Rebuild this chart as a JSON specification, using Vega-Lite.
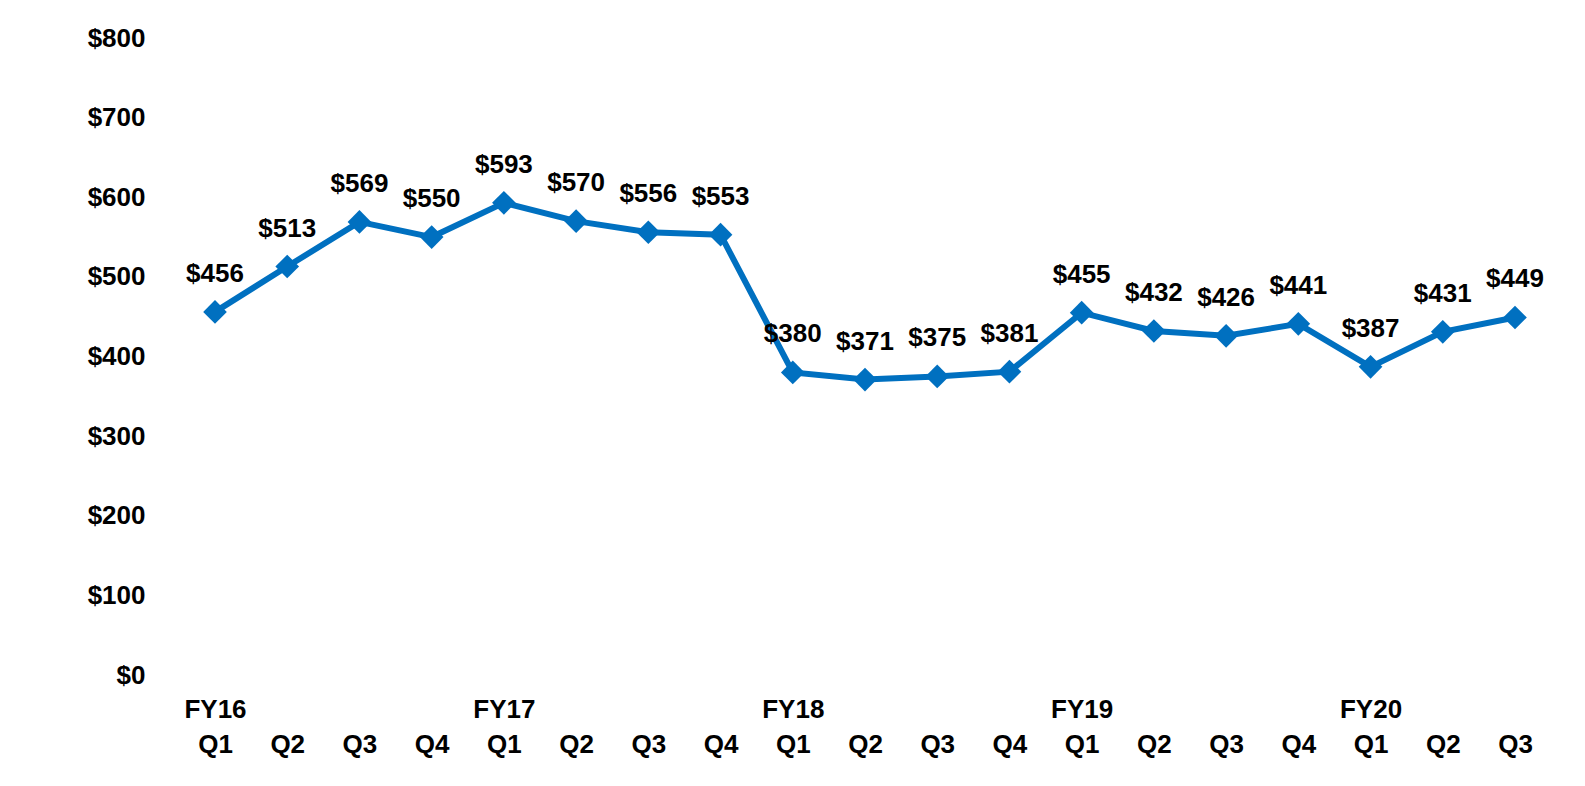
{
  "$schema": "https://vega.github.io/schema/vega-lite/v6.json",
  "autosize": "none",
  "padding": {"left": 150, "top": 38, "right": 5, "bottom": 111},
  "width": 1430,
  "height": 637,
  "background": "white",
  "config": {
    "view": {"stroke": null},
    "font": "Liberation Sans",
    "axis": {
      "grid": false, "domain": false, "ticks": false, "tickSize": 0,
      "labelFont": "Liberation Sans", "labelFontSize": 26, "labelFontWeight": "bold",
      "labelColor": "#000000", "title": null
    }
  },
  "data": {
    "values": [
      {"period": "FY16 Q1", "value": 456},
      {"period": "FY16 Q2", "value": 513},
      {"period": "FY16 Q3", "value": 569},
      {"period": "FY16 Q4", "value": 550},
      {"period": "FY17 Q1", "value": 593},
      {"period": "FY17 Q2", "value": 570},
      {"period": "FY17 Q3", "value": 556},
      {"period": "FY17 Q4", "value": 553},
      {"period": "FY18 Q1", "value": 380},
      {"period": "FY18 Q2", "value": 371},
      {"period": "FY18 Q3", "value": 375},
      {"period": "FY18 Q4", "value": 381},
      {"period": "FY19 Q1", "value": 455},
      {"period": "FY19 Q2", "value": 432},
      {"period": "FY19 Q3", "value": 426},
      {"period": "FY19 Q4", "value": 441},
      {"period": "FY20 Q1", "value": 387},
      {"period": "FY20 Q2", "value": 431},
      {"period": "FY20 Q3", "value": 449}
    ]
  },
  "encoding": {
    "x": {
      "field": "period", "type": "ordinal", "sort": null,
      "scale": {"type": "point", "padding": 0.9},
      "axis": {
        "labelAngle": 0, "labelAlign": "center", "labelBaseline": "top",
        "labelPadding": 21, "labelLineHeight": 35,
        "labelExpr": "indexof(datum.value, 'Q1') >= 0 ? split(datum.value, ' ') : [' ', split(datum.value, ' ')[1]]"
      }
    },
    "y": {
      "field": "value", "type": "quantitative",
      "scale": {"domain": [0, 800], "nice": false, "zero": true},
      "axis": {"values": [0, 100, 200, 300, 400, 500, 600, 700, 800], "format": "$.0f", "labelPadding": 5}
    }
  },
  "layer": [
    {"mark": {"type": "line", "color": "#0070C0", "strokeWidth": 6}},
    {"mark": {"type": "point", "shape": "diamond", "filled": true, "size": 560, "color": "#0070C0", "opacity": 1}},
    {
      "mark": {"type": "text", "dy": -38, "fontSize": 26, "fontWeight": "bold", "color": "#000000", "baseline": "middle", "align": "center"},
      "encoding": {"text": {"field": "value", "type": "quantitative", "format": "$.0f"}}
    }
  ]
}
